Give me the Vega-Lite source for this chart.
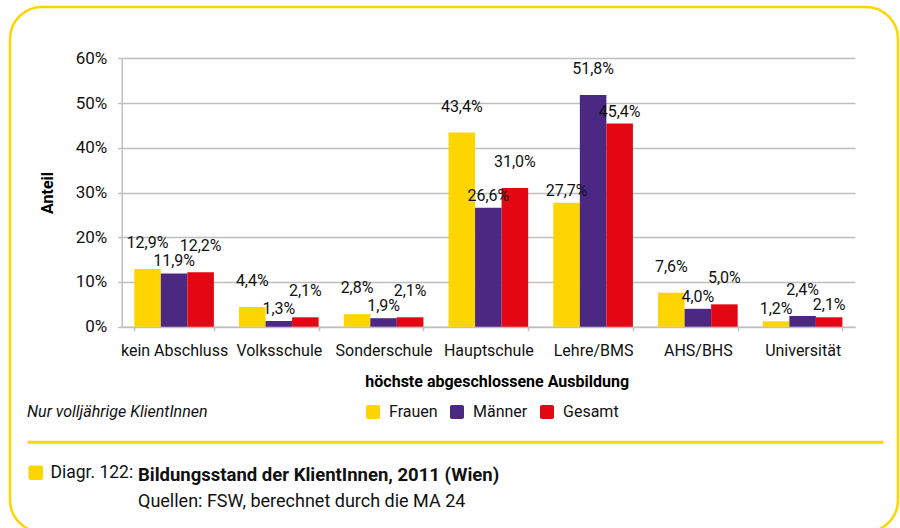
{
  "$schema": "https://vega.github.io/schema/vega-lite/v6.json",
  "width": 888,
  "height": 525,
  "autosize": {"type": "none"},
  "padding": {"left": 10, "top": 7, "right": 2, "bottom": 0},
  "background": "white",
  "datasets": {
    "edu": [
      {"cat": "kein Abschluss", "series": "Frauen", "value": 0.129},
      {"cat": "kein Abschluss", "series": "Männer", "value": 0.119},
      {"cat": "kein Abschluss", "series": "Gesamt", "value": 0.122},
      {"cat": "Volksschule", "series": "Frauen", "value": 0.044},
      {"cat": "Volksschule", "series": "Männer", "value": 0.013},
      {"cat": "Volksschule", "series": "Gesamt", "value": 0.021},
      {"cat": "Sonderschule", "series": "Frauen", "value": 0.028},
      {"cat": "Sonderschule", "series": "Männer", "value": 0.019},
      {"cat": "Sonderschule", "series": "Gesamt", "value": 0.021},
      {"cat": "Hauptschule", "series": "Frauen", "value": 0.434},
      {"cat": "Hauptschule", "series": "Männer", "value": 0.266},
      {"cat": "Hauptschule", "series": "Gesamt", "value": 0.31},
      {"cat": "Lehre/BMS", "series": "Frauen", "value": 0.277},
      {"cat": "Lehre/BMS", "series": "Männer", "value": 0.518},
      {"cat": "Lehre/BMS", "series": "Gesamt", "value": 0.454},
      {"cat": "AHS/BHS", "series": "Frauen", "value": 0.076},
      {"cat": "AHS/BHS", "series": "Männer", "value": 0.04},
      {"cat": "AHS/BHS", "series": "Gesamt", "value": 0.05},
      {"cat": "Universität", "series": "Frauen", "value": 0.012},
      {"cat": "Universität", "series": "Männer", "value": 0.024},
      {"cat": "Universität", "series": "Gesamt", "value": 0.021}
    ],
    "cap": [{"cap": "Diagr. 122:"}]
  },
  "title": {
    "text": "Bildungsstand der KlientInnen, 2011 (Wien)",
    "subtitle": "Quellen: FSW, berechnet durch die MA 24",
    "orient": "bottom",
    "anchor": "start",
    "frame": "group",
    "offset": -66,
    "dx": 128,
    "font": "Roboto",
    "subtitleFont": "Roboto",
    "fontSize": 18.5,
    "fontWeight": "bold",
    "color": "#111111",
    "subtitleFontSize": 18,
    "subtitleFontWeight": "normal",
    "subtitleColor": "#111111",
    "subtitlePadding": 8
  },
  "config": {
    "font": "Roboto",
    "locale": {"number": {"decimal": ",", "thousands": ".", "grouping": [3], "currency": ["", " €"]}},
    "view": {"stroke": "#FFD500", "strokeWidth": 2.5, "cornerRadius": 32},
    "axis": {
      "labelFont": "Roboto",
      "titleFont": "Roboto",
      "labelFontSize": 16,
      "labelColor": "#111111",
      "titleFontSize": 16,
      "titleFontWeight": "bold",
      "titleColor": "#000000",
      "domainColor": "#BFBFBF",
      "domainWidth": 1.5,
      "gridColor": "#BFBFBF",
      "gridWidth": 1.5,
      "tickColor": "#BFBFBF",
      "tickWidth": 1.5
    },
    "legend": {
      "labelFont": "Roboto",
      "titleFont": "Roboto",
      "labelFontSize": 16,
      "labelColor": "#111111",
      "padding": 0
    }
  },
  "layer": [
    {
      "data": {"name": "edu"},
      "transform": [
        {"joinaggregate": [{"op": "argmax", "field": "value", "as": "top"}], "groupby": ["cat"]}
      ],
      "layer": [
        {
          "mark": {"type": "bar"},
          "encoding": {
            "x": {
              "field": "cat",
              "type": "nominal",
              "sort": ["kein Abschluss", "Volksschule", "Sonderschule", "Hauptschule", "Lehre/BMS", "AHS/BHS", "Universität"],
              "scale": {"range": [111.7, 845], "paddingInner": 0.24, "paddingOuter": 0.12},
              "axis": {
                "orient": "bottom",
                "offset": -205.3,
                "tickBand": "extent",
                "tickSize": 4,
                "labelPadding": 20,
                "labelBaseline": "middle",
                "labelAngle": 0,
                "grid": false,
                "title": "höchste abgeschlossene Ausbildung",
                "titleX": 486.7,
                "titleY": 54.3,
                "titleBaseline": "middle",
                "titleAlign": "center"
              }
            },
            "xOffset": {"field": "series", "type": "nominal", "scale": {"domain": ["Frauen", "Männer", "Gesamt"]}},
            "y": {
              "field": "value",
              "type": "quantitative",
              "scale": {"domain": [0, 0.6], "range": [319.7, 51.3], "nice": false, "zero": true},
              "axis": {
                "orient": "left",
                "offset": -111.7,
                "values": [0, 0.1, 0.2, 0.3, 0.4, 0.5, 0.6],
                "format": ".0%",
                "tickSize": 4,
                "labelPadding": 11,
                "labelFontSize": 17,
                "grid": true,
                "title": "Anteil",
                "titleAngle": -90,
                "titleX": -74.7,
                "titleY": 185.5,
                "titleBaseline": "middle",
                "titleAlign": "center"
              }
            },
            "color": {
              "field": "series",
              "type": "nominal",
              "scale": {"domain": ["Frauen", "Männer", "Gesamt"], "range": ["#FFD500", "#4B2882", "#E30613"]},
              "legend": {
                "orient": "none",
                "legendX": 17,
                "legendY": 397,
                "direction": "horizontal",
                "title": "Nur volljährige KlientInnen",
                "titleOrient": "left",
                "titleFontStyle": "italic",
                "titleFontWeight": "normal",
                "titleFontSize": 16,
                "titleColor": "#111111",
                "titleLimit": 400,
                "titlePadding": 157,
                "symbolType": "M-0.72,-1H0.72A0.28,0.28 0 0 1 1,-0.72V0.72A0.28,0.28 0 0 1 0.72,1H-0.72A0.28,0.28 0 0 1 -1,0.72V-0.72A0.28,0.28 0 0 1 -0.72,-1Z",
                "symbolSize": 196,
                "symbolStrokeWidth": 0,
                "labelOffset": 8,
                "columnPadding": 11
              }
            }
          }
        },
        {
          "transform": [{"filter": "(datum.series === 'Männer') === (datum.top.series === 'Männer')"}],
          "mark": {"type": "text", "baseline": "middle", "dy": -26, "fontSize": 16, "color": "#111111"},
          "encoding": {
            "x": {"field": "cat", "type": "nominal", "sort": ["kein Abschluss", "Volksschule", "Sonderschule", "Hauptschule", "Lehre/BMS", "AHS/BHS", "Universität"]},
            "xOffset": {"field": "series", "type": "nominal", "scale": {"domain": ["Frauen", "Männer", "Gesamt"]}},
            "y": {"field": "value", "type": "quantitative"},
            "text": {"field": "value", "type": "quantitative", "format": ".1%"}
          }
        },
        {
          "transform": [{"filter": "(datum.series === 'Männer') !== (datum.top.series === 'Männer')"}],
          "mark": {"type": "text", "baseline": "middle", "dy": -12, "fontSize": 16, "color": "#111111"},
          "encoding": {
            "x": {"field": "cat", "type": "nominal", "sort": ["kein Abschluss", "Volksschule", "Sonderschule", "Hauptschule", "Lehre/BMS", "AHS/BHS", "Universität"]},
            "xOffset": {"field": "series", "type": "nominal", "scale": {"domain": ["Frauen", "Männer", "Gesamt"]}},
            "y": {"field": "value", "type": "quantitative"},
            "text": {"field": "value", "type": "quantitative", "format": ".1%"}
          }
        }
      ]
    },
    {
      "data": {"name": "cap"},
      "mark": {"type": "point", "shape": "square", "filled": true, "opacity": 0},
      "encoding": {
        "x": {
          "field": "cap",
          "type": "nominal",
          "scale": {"range": [17, 873]},
          "axis": {
            "orient": "bottom",
            "offset": -90.3,
            "domainColor": "#FFD500",
            "domainWidth": 3,
            "ticks": false,
            "labels": false,
            "grid": false,
            "title": null
          }
        },
        "fill": {
          "field": "cap",
          "type": "nominal",
          "scale": {"range": ["#FFD500"]},
          "legend": {
            "orient": "none",
            "legendX": 17,
            "legendY": 457,
            "title": null,
            "symbolType": "M-0.72,-1H0.72A0.28,0.28 0 0 1 1,-0.72V0.72A0.28,0.28 0 0 1 0.72,1H-0.72A0.28,0.28 0 0 1 -1,0.72V-0.72A0.28,0.28 0 0 1 -0.72,-1Z",
            "symbolSize": 210,
            "symbolStrokeWidth": 0,
            "symbolOpacity": 1,
            "labelOffset": 6,
            "labelFontSize": 17.5
          }
        }
      }
    }
  ],
  "resolve": {"scale": {"x": "independent"}, "axis": {"x": "independent"}}
}
